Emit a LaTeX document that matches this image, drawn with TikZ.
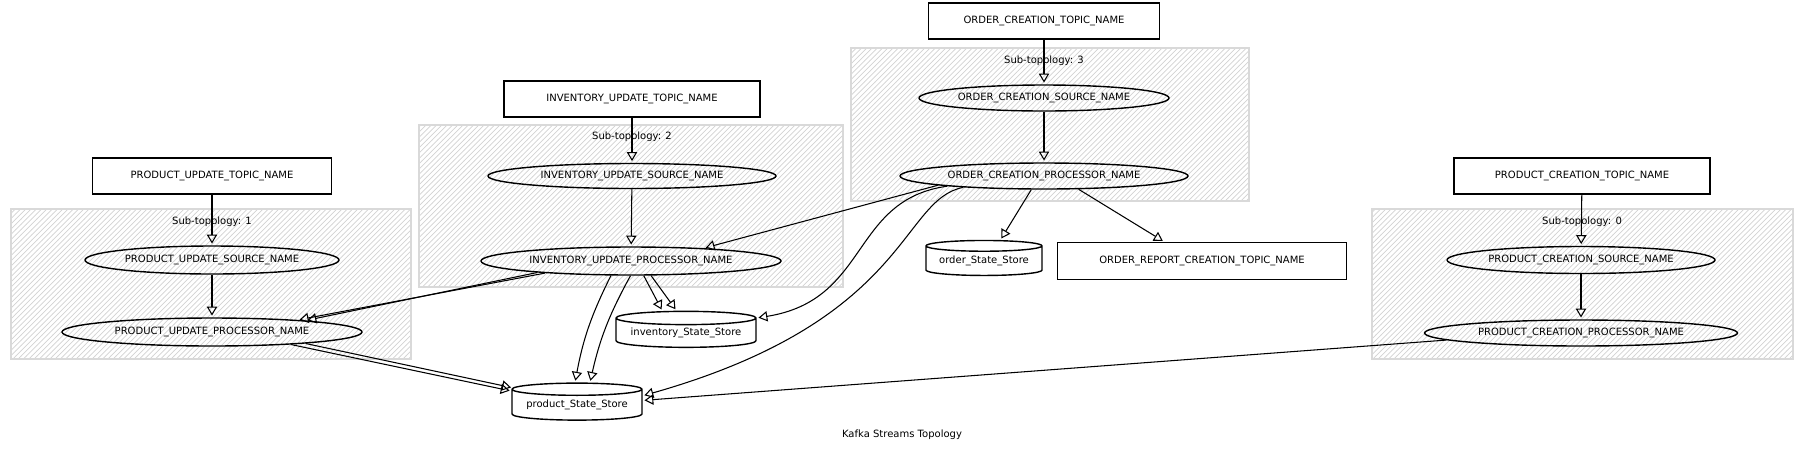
\documentclass[tikz,border=0pt]{standalone}
\usepackage{fontspec}
\setmainfont{DejaVu Sans}
\usetikzlibrary{shapes, calc, positioning, arrows.meta, patterns}

\tikzset{
  topic/.style = {draw, rectangle, thick, minimum height=0.72cm, inner sep=0pt},
  proc/.style = {draw, ellipse, thick, inner sep=0pt},
  store/.style = {draw, cylinder, shape border rotate=90, aspect=0.12, thick, inner sep=0pt},
  subtopo/.style = {draw=gray!30, line width=1pt, fill=gray!5, pattern=north east lines, pattern color=gray!35},
  flow/.style = {->, semithick},
}

\begin{document}
\begin{tikzpicture}[x=0.02cm, y=-0.02cm, > = {Triangle[open, scale=1.2]}, shorten > = 1pt, font=\fontsize{5.7}{6.8}\selectfont]
    \useasboundingbox (0,0) rectangle (1805,451);
    % sub-topology boxes
    \draw[subtopo] (11,209) rectangle (411,359);
    \draw[subtopo] (419,125) rectangle (843,287);
    \draw[subtopo] (851,48) rectangle (1249,201);
    \draw[subtopo] (1372,209) rectangle (1793,359);
    \node (lbl1) at (212,222) {Sub-topology: 1};
    \node (lbl2) at (632,137) {Sub-topology: 2};
    \node (lbl3) at (1044,61) {Sub-topology: 3};
    \node (lbl0) at (1582,222) {Sub-topology: 0};

    % sub-topology 1
    \node[topic, minimum width=4.78cm] (put) at (212,176) {PRODUCT\_UPDATE\_TOPIC\_NAME};
    \node[proc, minimum width=5.08cm, minimum height=0.56cm] (pus) at (212,260) {PRODUCT\_UPDATE\_SOURCE\_NAME};
    \node[proc, minimum width=6cm, minimum height=0.56cm] (pup) at (212,332) {PRODUCT\_UPDATE\_PROCESSOR\_NAME};

    % sub-topology 2
    \node[topic, minimum width=5.12cm] (iut) at (632,99) {INVENTORY\_UPDATE\_TOPIC\_NAME};
    \node[proc, minimum width=5.76cm, minimum height=0.5cm] (ius) at (632,176) {INVENTORY\_UPDATE\_SOURCE\_NAME};
    \node[proc, minimum width=6cm, minimum height=0.56cm] (iup) at (631,261) {INVENTORY\_UPDATE\_PROCESSOR\_NAME};
    \node[store, minimum width=2.8cm, minimum height=0.72cm] (invstore) at (686,333) {inventory\_State\_Store};
    \node[store, minimum width=2.6cm, minimum height=0.74cm] (prodstore) at (577,405) {product\_State\_Store};

    % sub-topology 3
    \node[topic, minimum width=4.62cm] (oct) at (1044,21) {ORDER\_CREATION\_TOPIC\_NAME};
    \node[proc, minimum width=5cm, minimum height=0.52cm] (ocs) at (1044,98) {ORDER\_CREATION\_SOURCE\_NAME};
    \node[proc, minimum width=5.76cm, minimum height=0.52cm] (ocp) at (1044,176) {ORDER\_CREATION\_PROCESSOR\_NAME};
    \node[store, minimum width=2.32cm, minimum height=0.7cm] (ordstore) at (984,261) {order\_State\_Store};
    \node[topic, minimum width=5.78cm, minimum height=0.74cm] (ort) at (1202,261) {ORDER\_REPORT\_CREATION\_TOPIC\_NAME};

    % sub-topology 0
    \node[topic, minimum width=5.12cm] (pct) at (1582,176) {PRODUCT\_CREATION\_TOPIC\_NAME};
    \node[proc, minimum width=5.36cm, minimum height=0.54cm] (pcs) at (1581,260) {PRODUCT\_CREATION\_SOURCE\_NAME};
    \node[proc, minimum width=6.26cm, minimum height=0.52cm] (pcp) at (1581,333) {PRODUCT\_CREATION\_PROCESSOR\_NAME};

    \node (title) at (902,435) {Kafka Streams Topology};

    % topic -> source -> processor
    \draw[flow] (put) -- (pus);
    \draw[flow] (pus) -- (pup);
    \draw[flow] (iut) -- (ius);
    \draw[flow] (ius) -- (iup);
    \draw[flow] (oct) -- (ocs);
    \draw[flow] (ocs) -- (ocp);
    \draw[flow] (pct) -- (pcs);
    \draw[flow] (pcs) -- (pcp);

    % processors -> stores and other processors
    \draw[flow] (iup.187) -- (pup.7);
    \draw[flow] (iup.188) -- (pup.8);
    \draw[flow] (pup.-9) -- (prodstore.168);
    \draw[flow] (pup.-7) -- (prodstore.165);
    \draw[flow] (iup.216) to[bend right=8] (prodstore.95);
    \draw[flow] (iup.-92) to[bend right=8] (prodstore.60);
    \draw[flow] (iup.-49) -- (invstore.137);
    \draw[flow] (iup.-36) -- (invstore.113);
    \draw[flow] (ocp.185) -- (iup.10);
    \draw[flow] (ocp.186) .. controls (850,200) and (870,300) .. (invstore.12);
    \draw[flow] (ocp.188) .. controls (900,200) and (910,320) .. (prodstore.8);
    \draw[flow] (ocp.227) -- (ordstore.52);
    \draw[flow] (ocp.-21) -- (ort.153);
    \draw[flow] (pcp.183) -- (prodstore.4);
\end{tikzpicture}
\end{document}
